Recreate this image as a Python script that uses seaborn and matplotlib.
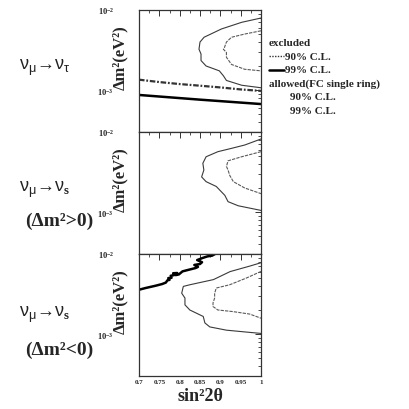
import numpy as np
import pandas as pd
import matplotlib
matplotlib.use("Agg")
import matplotlib.pyplot as plt
import seaborn as sns
from matplotlib.lines import Line2D
from matplotlib.ticker import FixedLocator, MultipleLocator, LogLocator, NullFormatter

# ---------------- data (sin^2 2theta, delta m^2 in eV^2) ----------------
# panel 1: nu_mu -> nu_tau
tau_99_x = [1.0, 0.9525, 0.9025, 0.86, 0.85, 0.8475, 0.8525, 0.8525, 0.865, 0.8975, 0.9075, 0.915, 0.9525, 1.0]
tau_99_y = [7.94e-3, 7.02e-3, 5.79e-3, 4.57e-3, 3.98e-3, 3.24e-3, 2.82e-3, 2.34e-3, 2.0e-3, 1.74e-3, 1.51e-3, 1.32e-3, 1.15e-3, 1.07e-3]
tau_90_x = [1.0, 0.96, 0.9275, 0.915, 0.91, 0.9075, 0.915, 0.915, 0.9275, 0.96, 1.0]
tau_90_y = [5.50e-3, 5.01e-3, 4.57e-3, 3.98e-3, 3.39e-3, 3.24e-3, 2.95e-3, 2.57e-3, 2.09e-3, 1.82e-3, 1.74e-3]
tau_ex90_x = [0.7, 0.75, 0.8, 0.85, 0.9, 0.95, 1.0]
tau_ex90_y = [1.35e-3, 1.26e-3, 1.19e-3, 1.135e-3, 1.08e-3, 1.02e-3, 0.977e-3]
tau_ex99_x = [0.7, 0.85, 1.0]
tau_ex99_y = [8.7e-4, 7.6e-4, 6.7e-4]

# panel 2: nu_mu -> nu_s (dm2 > 0)
sp_99_x = [1.0, 0.96, 0.9275, 0.894, 0.865, 0.857, 0.8595, 0.854, 0.865, 0.89, 0.911, 0.919, 0.944, 1.0]
sp_99_y = [8.18e-3, 6.88e-3, 6.25e-3, 5.68e-3, 4.91e-3, 4.07e-3, 3.35e-3, 2.75e-3, 2.40e-3, 2.09e-3, 1.62e-3, 1.35e-3, 1.20e-3, 1.05e-3]
sp_90_x = [1.0, 0.9525, 0.919, 0.915, 0.919, 0.923, 0.932, 0.96, 1.0]
sp_90_y = [5.68e-3, 4.91e-3, 4.37e-3, 3.72e-3, 3.35e-3, 2.88e-3, 2.40e-3, 2.0e-3, 1.70e-3]

# panel 3: nu_mu -> nu_s (dm2 < 0)
sn_99_x = [1.0, 0.973, 0.924, 0.883, 0.825, 0.809, 0.805, 0.813, 0.813, 0.825, 0.858, 0.862, 0.874, 0.915, 0.973, 1.0]
sn_99_y = [7.78e-3, 7.08e-3, 6.03e-3, 4.79e-3, 4.13e-3, 3.94e-3, 3.24e-3, 2.82e-3, 2.32e-3, 2.0e-3, 1.66e-3, 1.38e-3, 1.23e-3, 1.12e-3, 1.05e-3, 1.02e-3]
sn_90_x = [1.0, 0.964, 0.923, 0.89, 0.886, 0.886, 0.882, 0.882, 0.894, 0.931, 0.972, 1.0]
sn_90_y = [6.06e-3, 5.01e-3, 4.13e-3, 3.76e-3, 3.24e-3, 2.82e-3, 2.45e-3, 2.21e-3, 2.0e-3, 1.91e-3, 1.78e-3, 1.58e-3]
sn_ex99_x = [0.7, 0.716, 0.741, 0.757, 0.766, 0.770, 0.775, 0.772, 0.780, 0.778, 0.786, 0.784, 0.794, 0.790,
             0.798, 0.807, 0.823, 0.839, 0.845, 0.836, 0.850, 0.855, 0.843, 0.856, 0.868, 0.880, 0.89]
sn_ex99_y = [3.58e-3, 3.76e-3, 4.02e-3, 4.22e-3, 4.40e-3, 4.70e-3, 4.75e-3, 5.0e-3, 5.05e-3, 5.35e-3, 5.45e-3, 5.75e-3, 5.79e-3, 5.45e-3,
             5.56e-3, 6.07e-3, 6.37e-3, 6.68e-3, 6.9e-3, 7.3e-3, 7.5e-3, 7.9e-3, 8.4e-3, 8.91e-3, 9.33e-3, 9.55e-3, 1.02e-2]

x_ticks = [0.7, 0.75, 0.8, 0.85, 0.9, 0.95, 1.0]
x_ticklabels = ["0.7", "0.75", "0.8", "0.85", "0.9", "0.95", "1"]
y_ticks = [1e-3, 1e-2]
y_ticklabels = [r"$\mathbf{10^{-3}}$", r"$\mathbf{10^{-2}}$"]

panel_titles = [
    (r"$\nu_{\mu}\!\rightarrow\!\nu_{\tau}$", None),
    (r"$\nu_{\mu}\!\rightarrow\!\nu_{\mathbf{s}}$", "(Δm²>0)"),
    (r"$\nu_{\mu}\!\rightarrow\!\nu_{\mathbf{s}}$", "(Δm²<0)"),
]

# ---------------- style ----------------
sns.set_theme(style="white")
plt.rcParams["font.family"] = ["Liberation Serif", "DejaVu Serif"]
plt.rcParams["font.weight"] = "bold"
plt.rcParams["mathtext.fontset"] = "custom"
plt.rcParams["mathtext.rm"] = "Liberation Sans:weight=normal"
plt.rcParams["mathtext.it"] = "Liberation Sans:weight=normal"
plt.rcParams["mathtext.bf"] = "Liberation Serif:bold"
plt.rcParams["axes.linewidth"] = 0.9
plt.rcParams["axes.edgecolor"] = "#333333"

W, H = 409, 410
fig = plt.figure(figsize=(W / 100, H / 100), dpi=100)
fig.patch.set_facecolor("white")

L_px, R_px = 139, 261
panel_h = 122
tops = [11, 133, 255]

allowed99 = dict(color="#3a3a3a", lw=0.8, linestyle="-")
allowed90 = dict(color="#5a5a5a", lw=0.8, linestyle=(0, (3, 1)))
excl90 = dict(color="#333333", lw=1.6, linestyle=(0, (2.5, 0.8, 0.8, 0.8)))
excl99 = dict(color="black", lw=1.8, linestyle="-")


def draw(ax, xs, ys, style):
    df = pd.DataFrame({"x": xs, "y": ys})
    sns.lineplot(data=df, x="x", y="y", sort=False, estimator=None, ax=ax, **style)


panels_data = [
    [(tau_99_x, tau_99_y, allowed99), (tau_90_x, tau_90_y, allowed90),
     (tau_ex90_x, tau_ex90_y, excl90), (tau_ex99_x, tau_ex99_y, excl99)],
    [(sp_99_x, sp_99_y, allowed99), (sp_90_x, sp_90_y, allowed90)],
    [(sn_99_x, sn_99_y, allowed99), (sn_90_x, sn_90_y, allowed90),
     (sn_ex99_x, sn_ex99_y, excl99)],
]

for i, top in enumerate(tops):
    ax = fig.add_axes([L_px / W, 1 - (top + panel_h) / H, (R_px - L_px) / W, panel_h / H])
    for xs, ys, st in panels_data[i]:
        draw(ax, xs, ys, st)
    ax.set_yscale("log")
    ax.set_xlim(0.7, 1.0)
    ax.set_ylim(3e-4, 1e-2)
    ax.xaxis.set_major_locator(FixedLocator(x_ticks))
    ax.xaxis.set_minor_locator(MultipleLocator(0.025))
    ax.yaxis.set_major_locator(FixedLocator(y_ticks))
    ax.yaxis.set_minor_locator(LogLocator(base=10, subs=np.arange(2, 10)))
    ax.yaxis.set_minor_formatter(NullFormatter())
    ax.set_yticklabels(y_ticklabels, fontsize=6)
    if i == 2:
        ax.set_xticklabels(x_ticklabels, fontsize=5, fontweight="bold")
        ax.set_xlabel("sin²2θ", fontsize=13, fontweight="bold", labelpad=2)
    else:
        ax.set_xticklabels([])
        ax.set_xlabel("")
    ax.tick_params(which="both", direction="in", top=True, right=True, color="#333333")
    ax.tick_params(which="major", length=4, width=0.7)
    ax.tick_params(which="minor", length=2, width=0.6)
    ax.tick_params(axis="y", which="major", pad=18)
    ax.tick_params(axis="x", which="major", pad=2)
    ax.set_ylabel("Δm²(eV²)", fontsize=12, fontweight="bold")
    ax.yaxis.set_label_coords(-0.085, 0.62)
    for s in ax.spines.values():
        s.set_visible(True)

# left-hand channel labels
label_rows = [(68, None), (190, 221), (315, 350)]
for (t1, t2), (y1, y2) in zip(panel_titles, label_rows):
    fig.text(45 / W, 1 - y1 / H, t1, fontsize=13, ha="center", va="center", color="#222222")
    if t2 is not None:
        fig.text(59 / W, 1 - y2 / H, t2, fontsize=14, fontweight="bold", ha="center", va="center")

# legend block (right side)
fs = 8
fig.text(269 / W, 1 - 43 / H, "excluded", fontsize=fs, fontweight="bold", va="center")
fig.lines.append(Line2D([269 / W, 284 / W], [1 - 57 / H, 1 - 57 / H], transform=fig.transFigure,
                        color="#333333", lw=1.0, linestyle=(0, (1, 1))))
fig.text(285 / W, 1 - 57 / H, "90% C.L.", fontsize=fs, fontweight="bold", va="center")
fig.lines.append(Line2D([269 / W, 284 / W], [1 - 71 / H, 1 - 71 / H], transform=fig.transFigure,
                        color="black", lw=1.8))
fig.text(285 / W, 1 - 71 / H, "99% C.L.", fontsize=fs, fontweight="bold", va="center")
fig.text(269 / W, 1 - 84 / H, "allowed(FC single ring)", fontsize=fs, fontweight="bold", va="center")
fig.text(290 / W, 1 - 98 / H, "90% C.L.", fontsize=fs, fontweight="bold", va="center")
fig.text(290 / W, 1 - 111 / H, "99% C.L.", fontsize=fs, fontweight="bold", va="center")

fig.savefig("out.png", dpi=100, facecolor="white")
